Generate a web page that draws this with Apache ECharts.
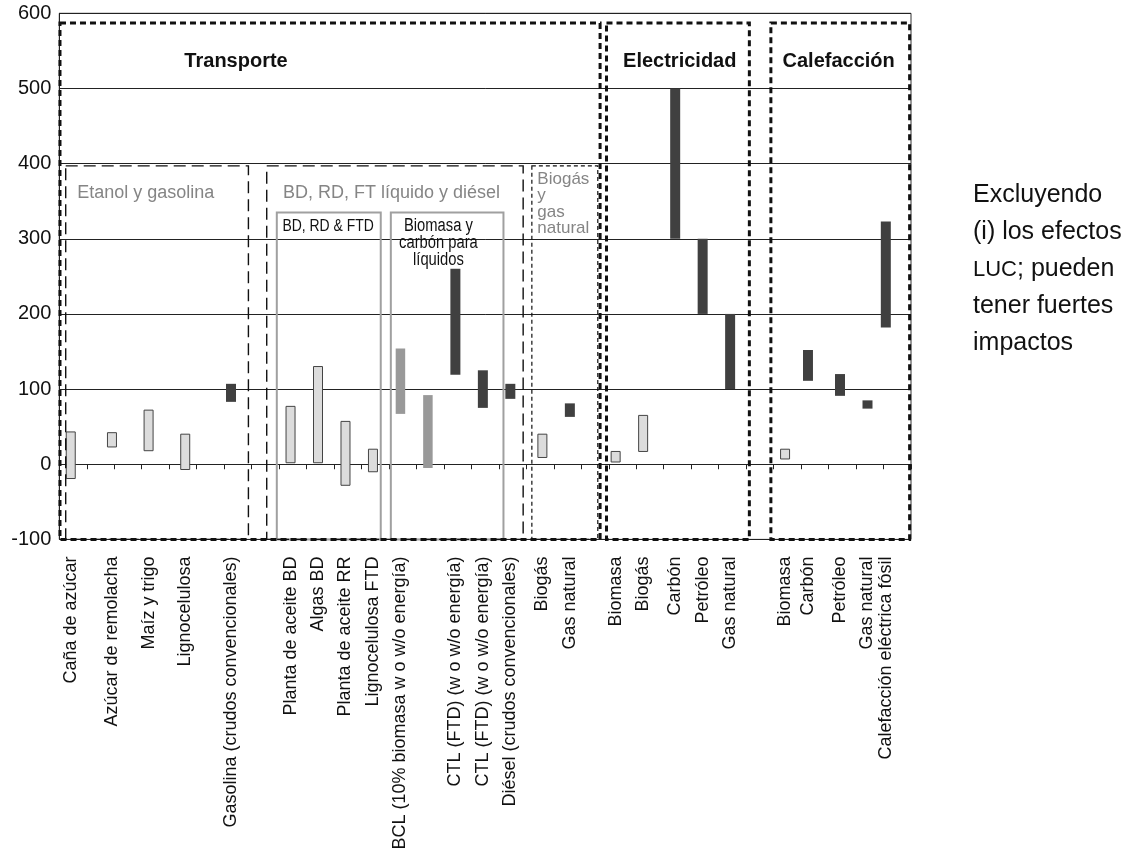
<!DOCTYPE html>
<html>
<head>
<meta charset="utf-8">
<script src="https://cdn.jsdelivr.net/npm/echarts@6/dist/echarts.min.js"></script>
<style>
  html, body { margin: 0; padding: 0; background: #fff; }
  #chart { width: 1140px; height: 855px; }
</style>
</head>
<body>
<div id="chart"></div>
<script>
// ---- Data: emission ranges per pathway (low / high), left to right ----
const pathways = [
  'Caña de azúcar', 'Azúcar de remolacha', 'Maíz y trigo', 'Lignocelulosa',
  'Gasolina (crudos convencionales)',
  'Planta de aceite BD', 'Algas BD', 'Planta de aceite RR', 'Lignocelulosa FTD',
  'BCL (10% biomasa w o w/o energía)', '',
  'CTL (FTD) (w o w/o energía)', 'CTL (FTD) (w o w/o energía)',
  'Diésel (crudos convencionales)',
  'Biogás', 'Gas natural',
  'Biomasa', 'Biogás', 'Carbón', 'Petróleo', 'Gas natural',
  'Biomasa', 'Carbón', 'Petróleo', 'Gas natural', 'Calefacción eléctrica fósil'
];
const lows  = [-19, 23, 18, -7, 83,   2,   2, -28, -10,  67, -5, 119,  75,  87,  9, 63,  3, 17, 300, 200, 100,  7, 111,  91, 74, 182];
const highs = [ 43, 42, 72, 40, 107, 77, 130,  57,  20, 154, 92, 260, 125, 107, 40, 81, 17, 65, 500, 300, 200, 20, 152, 120, 85, 323];
// source type of each pathway: renewable, blended, fossil
const sources = ['bio', 'bio', 'bio', 'bio', 'fossil',
  'bio', 'bio', 'bio', 'bio', 'blend', 'blend', 'fossil', 'fossil', 'fossil',
  'bio', 'fossil', 'bio', 'bio', 'fossil', 'fossil', 'fossil',
  'bio', 'fossil', 'fossil', 'fossil', 'fossil'];
const yTicks = { min: -100, max: 600, step: 100 };

// ---- Layout: the axis is cut into fine slots, six per tick ----
const SLOT_COUNT = 186;
const pathwaySlots = [2, 11, 19, 27, 37, 50, 56, 62, 68, 74, 80, 86, 92, 98, 105, 111, 121, 127, 134, 140, 146, 158, 163, 170, 176, 180];
const slotIds = Array.from({ length: SLOT_COUNT }, (_, i) => String(i));
const slotLabels = Array(SLOT_COUNT).fill('');
pathwaySlots.forEach((s, i) => { slotLabels[s] = pathways[i]; });

// Group frames in slot units: [left, right, bottom, top]
const sectorFrames = [[0.15, 118.1, -100, 587], [119.5, 150.7, -100, 587], [155.4, 185.7, -100, 587]];
const groupFrames = [[1.4, 41.3, -100, 397], [45.3, 101.3, -100, 397]];
const gasFrames = [[103.2, 117.6, -100, 397]];
const subFrames = [[47.5, 70.2, -100, 335], [72.4, 97.0, -100, 335]];

const FONT = "'Liberation Sans', Arial, sans-serif";
const notes = [
  { text: 'Transporte', at: [38.6, 535.5], size: 20, weight: 'bold', color: '#111', align: 'center', va: 'middle' },
  { text: 'Electricidad', at: [135.5, 536], size: 20, weight: 'bold', color: '#111', align: 'center', va: 'middle' },
  { text: 'Calefacción', at: [170.2, 536], size: 20, weight: 'bold', color: '#111', align: 'center', va: 'middle' },
  { text: 'Etanol y gasolina', at: [3.9, 361], size: 18, color: '#858585', align: 'left', va: 'middle' },
  { text: 'BD, RD, FT líquido y diésel', at: [48.85, 361], size: 18, color: '#858585', align: 'left', va: 'middle' },
  { text: 'Biogás\ny\ngas\nnatural', at: [104.4, 390], size: 17, lh: 16.3, color: '#858585', align: 'left', va: 'top' },
  { text: 'BD, RD & FTD', at: [58.7, 317], size: 17, sx: 0.82, color: '#111', align: 'center', va: 'middle' },
  { text: 'Biomasa y\ncarbón para\nlíquidos', at: [82.8, 327.8], size: 18, lh: 16.7, sx: 0.82, color: '#111', align: 'center', va: 'top' }
];

function barRenderer(fill, stroke, width) {
  return function (params, api) {
    const x = api.value(0);
    const top = api.coord([x, api.value(2)]);
    const bottom = api.coord([x, api.value(1)]);
    return {
      type: 'rect',
      shape: { x: top[0] - width / 2, y: top[1], width: width, height: bottom[1] - top[1] },
      style: { fill: fill, stroke: stroke || null, lineWidth: stroke ? 1 : 0 }
    };
  };
}

function frameRenderer(style) {
  return function (params, api) {
    const p0 = api.coord([api.value(0), api.value(3)]);
    const p1 = api.coord([api.value(1), api.value(2)]);
    return {
      type: 'rect',
      shape: { x: p0[0], y: p0[1], width: p1[0] - p0[0], height: p1[1] - p0[1] },
      style: Object.assign({ fill: 'none' }, style)
    };
  };
}

function barData(kind) {
  return pathways.map((_, i) => i).filter(i => sources[i] === kind)
    .map(i => [pathwaySlots[i], lows[i], highs[i]]);
}

function frameSeries(data, style, z) {
  return {
    type: 'custom', xAxisIndex: 2, yAxisIndex: 0, silent: true, clip: false, z: z,
    encode: { x: [0, 1], y: [2, 3] },
    data: data,
    renderItem: frameRenderer(style)
  };
}

const chart = echarts.init(document.getElementById('chart'), null, { renderer: 'canvas' });
chart.setOption({
  animation: false,
  backgroundColor: '#fff',
  textStyle: { fontFamily: FONT },
  grid: {
    left: 59.3, top: 13.3, width: 851.7, height: 526.1,
    show: true, borderColor: '#333', borderWidth: 1,
    outerBoundsMode: 'none', containLabel: false
  },
  xAxis: [
    {
      type: 'category', data: slotIds, position: 'bottom', boundaryGap: true,
      axisLine: { show: true, onZero: true, lineStyle: { color: '#222', width: 1 } },
      axisTick: { show: true, length: 5, interval: i => i % 6 === 0, lineStyle: { color: '#222', width: 1 } },
      axisLabel: { show: false },
      splitLine: { show: false }
    },
    {
      type: 'category', data: slotIds, position: 'bottom', boundaryGap: true,
      axisLine: { show: false, onZero: false },
      axisTick: { show: false },
      axisLabel: {
        interval: 0, rotate: 90, margin: 17, fontSize: 18, color: '#111', fontFamily: FONT,
        formatter: (v, i) => slotLabels[i]
      },
      splitLine: { show: false }
    },
    { type: 'value', min: 0, max: SLOT_COUNT, show: false, axisLine: { onZero: false } }
  ],
  yAxis: {
    type: 'value', min: yTicks.min, max: yTicks.max, interval: yTicks.step,
    axisLine: { show: true, onZero: false, lineStyle: { color: '#222', width: 1 } },
    axisTick: { show: false },
    axisLabel: { fontSize: 20, color: '#111', margin: 8, fontFamily: FONT },
    splitLine: { show: true, lineStyle: { color: '#222', width: 1 } }
  },
  graphic: [{
    type: 'text', left: 973, top: 177, z: 10,
    style: {
      text: 'Excluyendo\n(i) los efectos\n{s|LUC}; pueden\ntener fuertes\nimpactos',
      fontSize: 25, lineHeight: 37, fill: '#111', fontFamily: FONT,
      rich: { s: { fontSize: 22, lineHeight: 37, fill: '#111', fontFamily: FONT } }
    }
  }],
  series: [
    { type: 'custom', xAxisIndex: 0, yAxisIndex: 0, z: 3, encode: { x: 0, y: [1, 2] },
      data: barData('bio'), renderItem: barRenderer('#dcdcdc', '#444', 9) },
    { type: 'custom', xAxisIndex: 0, yAxisIndex: 0, z: 3, encode: { x: 0, y: [1, 2] },
      data: barData('blend'), renderItem: barRenderer('#999999', null, 9.5) },
    { type: 'custom', xAxisIndex: 0, yAxisIndex: 0, z: 3, encode: { x: 0, y: [1, 2] },
      data: barData('fossil'), renderItem: barRenderer('#404040', null, 10) },
    frameSeries(subFrames, { stroke: '#a0a0a0', lineWidth: 2 }, 4),
    frameSeries(groupFrames, { stroke: '#111', lineWidth: 1.4, lineDash: [12, 6] }, 5),
    frameSeries(gasFrames, { stroke: '#111', lineWidth: 1.2, lineDash: [4, 3] }, 5),
    frameSeries(sectorFrames, { stroke: '#111', lineWidth: 3, lineDash: [6, 4] }, 6),
    {
      type: 'custom', xAxisIndex: 2, yAxisIndex: 0, silent: true, clip: false, z: 7,
      encode: { x: 0, y: 1 },
      data: notes.map(n => n.at),
      renderItem: function (params, api) {
        const n = notes[params.dataIndex];
        const p = api.coord([api.value(0), api.value(1)]);
        return {
          type: 'text', x: p[0], y: p[1], scaleX: n.sx || 1,
          style: {
            text: n.text, fill: n.color, fontSize: n.size, fontWeight: n.weight || 'normal',
            fontFamily: FONT, align: n.align, verticalAlign: n.va, lineHeight: n.lh || n.size * 1.2
          }
        };
      }
    }
  ]
});
</script>
</body>
</html>
